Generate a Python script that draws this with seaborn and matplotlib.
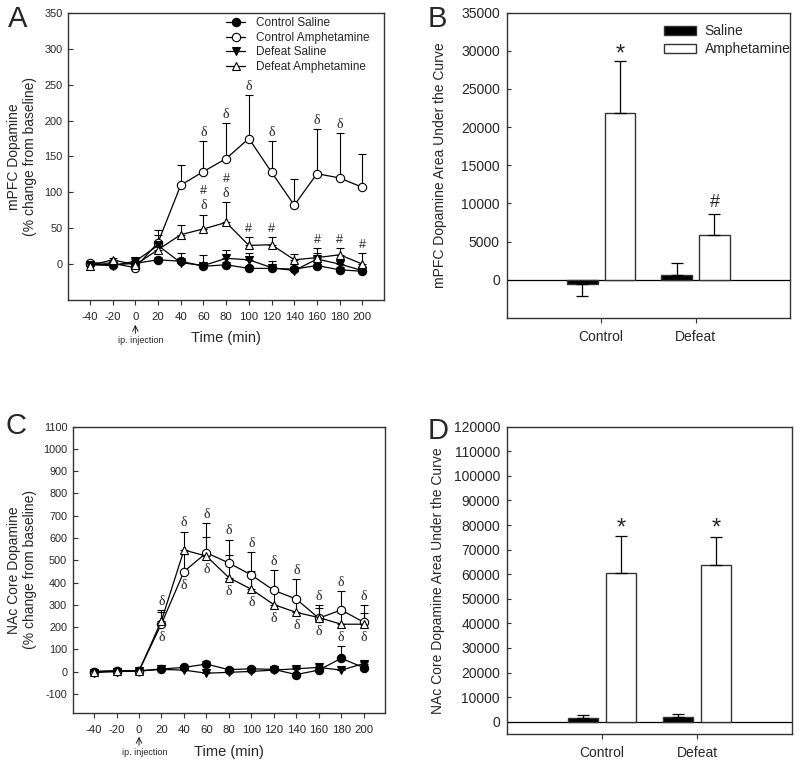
import numpy as np
import pandas as pd
import matplotlib.pyplot as plt
import seaborn as sns

# ---- donnees ----
temps = [-40, -20, 0, 20, 40, 60, 80, 100, 120, 140, 160, 180, 200]
noms_series = ['Control Saline', 'Control Amphetamine', 'Defeat Saline', 'Defeat Amphetamine']

# Panel A : mPFC (% change from baseline)
mpfc_ctrl_sal = [0, -1, 1, 6, 4, -3, -1, -6, -6, -7, -2, -8, -10]
mpfc_ctrl_sal_err = [3, 2, 3, 4, 5, 4, 4, 3, 4, 3, 5, 4, 4]
mpfc_ctrl_amph = [2, 1, -5, 30, 110, 129, 147, 175, 128, 82, 126, 120, 107]
mpfc_ctrl_amph_err = [3, 2, 3, 18, 28, 43, 50, 60, 44, 37, 62, 62, 47]
mpfc_def_sal = [-1, -2, 4, 26, 2, -2, 8, 6, -5, -9, 7, 0, -9]
mpfc_def_sal_err = [2, 3, 3, 15, 14, 14, 12, 9, 10, 4, 8, 7, 6]
mpfc_def_amph = [-2, 6, -1, 20, 41, 49, 58, 26, 27, 6, 9, 13, 0]
mpfc_def_amph_err = [2, 3, 2, 10, 14, 20, 28, 12, 11, 8, 13, 10, 16]

# Panel C : NAc core (% change from baseline)
nac_ctrl_sal = [0, 3, 4, 12, 19, 34, 9, 13, 10, -13, 7, 60, 18]
nac_ctrl_sal_err = [5, 4, 4, 6, 8, 15, 6, 6, 6, 8, 6, 57, 8]
nac_ctrl_amph = [0, 4, 4, 215, 449, 534, 488, 434, 365, 326, 240, 277, 222]
nac_ctrl_amph_err = [5, 4, 4, 60, 80, 135, 105, 105, 93, 89, 59, 85, 77]
nac_def_sal = [-4, 0, 3, 10, 7, -7, -3, 1, 7, 13, 19, 7, 36]
nac_def_sal_err = [5, 4, 4, 5, 6, 6, 5, 5, 5, 6, 6, 5, 6]
nac_def_amph = [0, 3, 3, 229, 546, 519, 422, 370, 301, 266, 243, 213, 213]
nac_def_amph_err = [4, 4, 4, 40, 83, 87, 102, 83, 64, 60, 41, 50, 49]

# Panels B et D : aire sous la courbe
groupes = ['Control', 'Defeat']
traitements = ['Saline', 'Amphetamine']
mpfc_auc_sal = [-500, 600]
mpfc_auc_sal_err = [1600, 1650]
mpfc_auc_amph = [21900, 5900]
mpfc_auc_amph_err = [6700, 2700]
nac_auc_sal = [1600, 1900]
nac_auc_sal_err = [1250, 1350]
nac_auc_amph = [60300, 63600]
nac_auc_amph_err = [15100, 11500]

# symboles de significativite
mpfc_delta_ctrl = [60, 80, 100, 120, 160, 180]
mpfc_delta_def = [60, 80]
mpfc_diese_def = [60, 80, 100, 120, 160, 180, 200]
nac_delta = [20, 40, 60, 80, 100, 120, 140, 160, 180, 200]

sns.set_style('ticks')
plt.rcParams['font.family'] = ['Liberation Sans', 'DejaVu Sans']
plt.rcParams['axes.unicode_minus'] = False

styles = [('o', 'black'), ('o', 'white'), ('v', 'black'), ('^', 'white')]
COL_AXE = '#333333'


def style_axes(ax):
    for s in ax.spines.values():
        s.set_color(COL_AXE)
        s.set_linewidth(1)


def tracer_cinetique(ax, series, erreurs, ylim, yticks, ylabel, arrow_y, text_y):
    for nom, (marker, fc), y, err in zip(noms_series, styles, series, erreurs):
        ax.errorbar(temps, y, yerr=[np.zeros(len(err)), err], fmt='none',
                    ecolor='black', elinewidth=0.8, capsize=3, capthick=0.8, zorder=2)
        sns.lineplot(x=temps, y=y, ax=ax, color='black', lw=0.9, marker=marker,
                     markersize=6, markerfacecolor=fc, markeredgecolor='black',
                     markeredgewidth=0.8, label=nom, zorder=3)
    ax.set_xlim(-59, 219)
    ax.set_xticks(temps)
    ax.set_ylim(*ylim)
    ax.set_yticks(yticks)
    ax.tick_params(axis='x', direction='out', length=3.5, width=0.8, pad=5, labelsize=8.2, color=COL_AXE)
    ax.tick_params(axis='y', direction='in', length=3.5, width=0.8, pad=4, labelsize=7.8, color=COL_AXE)
    ax.set_xlabel('Time (min)', fontsize=10.5, labelpad=7)
    ax.set_ylabel(ylabel, fontsize=10, va='center')
    style_axes(ax)
    # fleche de l'injection
    ax.annotate('', xy=(0, arrow_y), xycoords=('data', 'axes fraction'),
                xytext=(0, arrow_y - 0.03), textcoords=('data', 'axes fraction'),
                arrowprops=dict(arrowstyle='->', lw=0.6, color='black', shrinkA=0, shrinkB=0))
    ax.text(5, text_y, 'ip. injection', transform=ax.get_xaxis_transform(),
            ha='center', va='top', fontsize=6.5)


def symbole(ax, x, y, txt, dy, serif=False, va='bottom', size=9):
    fam = ['Liberation Serif', 'DejaVu Serif'] if serif else ['Liberation Sans', 'DejaVu Sans']
    ax.annotate(txt, xy=(x, y), xytext=(0, dy), textcoords='offset points',
                ha='center', va=va, fontsize=size, family=fam)


def tracer_auc(ax, sal, sal_err, amph, amph_err, ylim, yticks, ylabel):
    df = pd.DataFrame({'Groupe': groupes * 2,
                       'Traitement': ['Saline'] * 2 + ['Amphetamine'] * 2,
                       'AUC': sal + amph})
    sns.barplot(data=df, x='Groupe', y='AUC', hue='Traitement', palette=['black', 'white'],
                width=0.8, gap=0.19, errorbar=None, edgecolor='#333333', linewidth=1,
                legend=False, ax=ax, zorder=3)
    for cont, vals, errs in zip(ax.containers, [sal, amph], [sal_err, amph_err]):
        for bar, v, e in zip(cont, vals, errs):
            x = bar.get_x() + bar.get_width() / 2
            yerr = [[0], [e]] if v >= 0 else [[e], [0]]
            ax.errorbar(x, v, yerr=yerr, fmt='none', ecolor='black', elinewidth=0.9,
                        capsize=4.2, capthick=0.9, zorder=4)
    ax.axhline(0, color='black', lw=0.9, zorder=2)
    ax.set_xlim(-1, 2)
    ax.set_ylim(*ylim)
    ax.set_yticks(yticks)
    ax.set_xlabel('')
    ax.set_ylabel(ylabel, fontsize=10, va='center')
    ax.tick_params(axis='x', direction='out', length=3.5, width=0.8, pad=5, labelsize=10, color=COL_AXE)
    ax.tick_params(axis='y', direction='in', length=3, width=0.8, pad=5, labelsize=10, color=COL_AXE)
    style_axes(ax)


fig = plt.figure(figsize=(8, 7.66), dpi=100)
axA = fig.add_axes([0.0854, 0.6084, 0.3946, 0.3747])
axB = fig.add_axes([0.6334, 0.5849, 0.3541, 0.3986])
axC = fig.add_axes([0.0909, 0.0688, 0.3904, 0.3742])
axD = fig.add_axes([0.6338, 0.0418, 0.3563, 0.4012])

# ---- A ----
tracer_cinetique(axA, [mpfc_ctrl_sal, mpfc_ctrl_amph, mpfc_def_sal, mpfc_def_amph],
                 [mpfc_ctrl_sal_err, mpfc_ctrl_amph_err, mpfc_def_sal_err, mpfc_def_amph_err],
                 (-50, 350), np.arange(0, 351, 50), 'mPFC Dopamine\n(% change from baseline)',
                 -0.087, -0.125)
axA.yaxis.set_label_coords(-0.147, 0.5)
for t in mpfc_delta_ctrl:
    i = temps.index(t)
    symbole(axA, t, mpfc_ctrl_amph[i] + mpfc_ctrl_amph_err[i], 'δ', 1.5, serif=True, size=10)
for t in mpfc_diese_def:
    i = temps.index(t)
    haut = mpfc_def_amph[i] + mpfc_def_amph_err[i]
    if t in mpfc_delta_def:
        symbole(axA, t, haut, 'δ', 1.5, serif=True, size=10)
        symbole(axA, t, haut, '#', 12.5)
    else:
        symbole(axA, t, haut, '#', 1.5)
handles, labels = axA.get_legend_handles_labels()
axA.legend(handles, labels, loc='upper left', bbox_to_anchor=(0.5, 0.985), frameon=False,
           fontsize=8.5, handlelength=1.6, handletextpad=0.9, labelspacing=0.22,
           borderpad=0, borderaxespad=0)

# ---- C ----
tracer_cinetique(axC, [nac_ctrl_sal, nac_ctrl_amph, nac_def_sal, nac_def_amph],
                 [nac_ctrl_sal_err, nac_ctrl_amph_err, nac_def_sal_err, nac_def_amph_err],
                 (-187, 1100), np.arange(-100, 1101, 100), 'NAc Core Dopamine\n(% change from baseline)',
                 -0.082, -0.12)
axC.yaxis.set_label_coords(-0.162, 0.5)
axC.get_legend().remove()
for t in nac_delta:
    i = temps.index(t)
    haut = max(nac_ctrl_amph[i] + nac_ctrl_amph_err[i], nac_def_amph[i] + nac_def_amph_err[i])
    bas = min(nac_ctrl_amph[i], nac_def_amph[i])
    symbole(axC, t, haut, 'δ', 1.5, serif=True, size=10)
    symbole(axC, t, bas, 'δ', -5, serif=True, va='top', size=10)

# ---- B ----
tracer_auc(axB, mpfc_auc_sal, mpfc_auc_sal_err, mpfc_auc_amph, mpfc_auc_amph_err,
           (-5000, 35000), np.arange(0, 35001, 5000), 'mPFC Dopamine Area Under the Curve')
axB.yaxis.set_label_coords(-0.235, 0.5)
xa = [b.get_x() + b.get_width() / 2 for b in axB.containers[1]]
symbole(axB, xa[0], mpfc_auc_amph[0] + mpfc_auc_amph_err[0], '*', -3, size=17)
symbole(axB, xa[1], mpfc_auc_amph[1] + mpfc_auc_amph_err[1], '#', 2, size=13)
axB.legend(handles=axB.containers, labels=traitements, loc='upper left',
           bbox_to_anchor=(0.556, 0.962), frameon=False, fontsize=10, handlelength=2.3,
           handleheight=0.6, handletextpad=0.6, labelspacing=0.3, borderpad=0, borderaxespad=0)

# ---- D ----
tracer_auc(axD, nac_auc_sal, nac_auc_sal_err, nac_auc_amph, nac_auc_amph_err,
           (-5000, 120000), np.arange(0, 120001, 10000), 'NAc Core Dopamine Area Under the Curve')
axD.yaxis.set_label_coords(-0.242, 0.5)
xa = [b.get_x() + b.get_width() / 2 for b in axD.containers[1]]
for x, v, e in zip(xa, nac_auc_amph, nac_auc_amph_err):
    symbole(axD, x, v + e, '*', -2, size=17)

# lettres des panneaux
for lettre, x, y in [('A', 0.010, 0.994), ('B', 0.535, 0.994), ('C', 0.007, 0.462), ('D', 0.535, 0.455)]:
    fig.text(x, y, lettre, fontsize=21, va='top', ha='left')

plt.savefig('out.png', dpi=100)
